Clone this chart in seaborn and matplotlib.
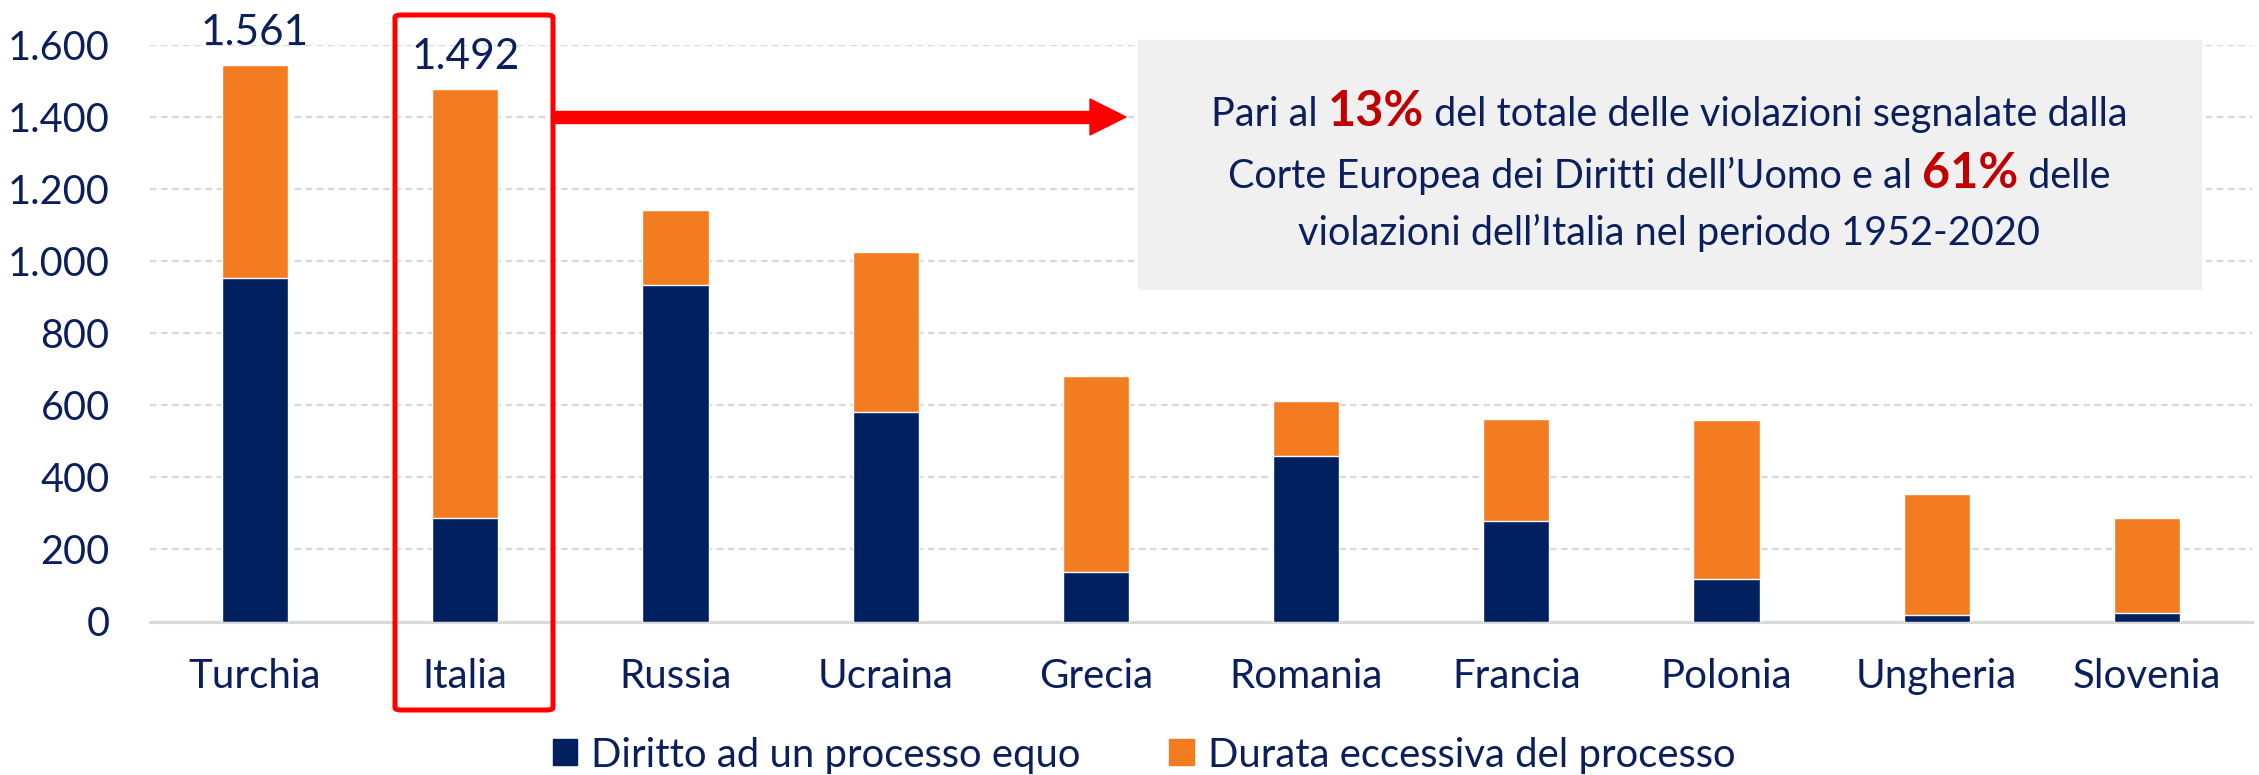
import matplotlib
matplotlib.use('Agg')
import matplotlib.pyplot as plt
import seaborn as sns
import pandas as pd
from matplotlib.patches import FancyBboxPatch, Rectangle, Patch

# Dati: violazioni per paese
paesi = ["Turchia", "Italia", "Russia", "Ucraina", "Grecia",
         "Romania", "Francia", "Polonia", "Ungheria", "Slovenia"]
processo_equo = [952, 287, 933, 580, 138, 459, 278, 117, 19, 23]
durata_eccessiva = [592, 1190, 208, 446, 544, 152, 285, 443, 335, 264]
totali_etichetta = ["1.561", "1.492"]  # etichette sopra le prime due barre
tick_y = [0, 200, 400, 600, 800, 1000, 1200, 1400, 1600]
tick_y_lab = ["0", "200", "400", "600", "800", "1.000", "1.200", "1.400", "1.600"]

NAVY = "#002060"
ORANGE = "#F47C20"
TXT = "#0B1F5C"
FONT = ["Lato", "DejaVu Sans"]

df = pd.DataFrame({"Paese": paesi, "Equo": processo_equo, "Durata": durata_eccessiva})
df["Totale"] = df["Equo"] + df["Durata"]

sns.set_style("white")
plt.rcParams['font.family'] = FONT

W, H = 2259, 775
fig = plt.figure(figsize=(W / 100, H / 100), dpi=100)
ax = fig.add_axes([150 / W, 1 - 621.5 / H, (2252 - 150) / W, (621.5 - 44.7) / H])

# barre impilate: prima il totale (arancio), poi la parte blu sopra
sns.barplot(data=df, x="Paese", y="Totale", color=ORANGE, width=0.315,
            saturation=1, ax=ax, zorder=3)
sns.barplot(data=df, x="Paese", y="Equo", color=NAVY, width=0.315,
            saturation=1, ax=ax, zorder=4)

ax.set_xlim(-0.5, 9.5)
ax.set_ylim(0, 1600)
ax.set_xlabel("")
ax.set_ylabel("")
ax.set_yticks(tick_y)
ax.set_yticklabels(tick_y_lab)
ax.tick_params(axis='y', length=0, pad=29, labelsize=28.5, labelcolor=TXT)
ax.tick_params(axis='x', length=0, pad=26, labelsize=29, labelcolor=TXT)
for s in ["top", "right", "left"]:
    ax.spines[s].set_visible(False)
ax.spines["bottom"].set_color("#D9D9D9")
ax.spines["bottom"].set_linewidth(2.2)
ax.yaxis.grid(True, color="#D9D9D9", linestyle=(0, (3, 2)), linewidth=1.6, zorder=0)
ax.set_axisbelow(True)

# etichette dei totali
for i, lab in enumerate(totali_etichetta):
    ax.annotate(lab, xy=(i, df["Totale"][i]), xytext=(0, 23), textcoords="offset points",
                ha="center", va="center", fontsize=30.5, color=TXT, annotation_clip=False)

# riquadro rosso attorno all'Italia e freccia
fig.patches.append(FancyBboxPatch((395 / W, 1 - 710 / H), (553 - 395) / W, (710 - 15) / H,
                                  boxstyle="round,pad=0,rounding_size=0.003",
                                  transform=fig.transFigure, fill=False,
                                  edgecolor="#FF0000", linewidth=3.6, zorder=10))
fig.patches.append(Rectangle((555 / W, 1 - 123 / H), (1092 - 555) / W, 12 / H,
                             transform=fig.transFigure, color="#FF0000", zorder=10))
fig.patches.append(plt.Polygon([[1090 / W, 1 - 99 / H], [1126 / W, 1 - 117 / H],
                                [1090 / W, 1 - 135 / H]], closed=True,
                               transform=fig.transFigure, color="#FF0000", zorder=10))

# box grigio con testo
fig.patches.append(Rectangle((1138 / W, 1 - 289 / H), (2201 - 1138) / W, (289 - 40) / H,
                             transform=fig.transFigure, color="#F0F0F0", zorder=5))

righe = [
    [("Pari al ", False), ("13%", True), (" del totale delle violazioni segnalate dalla", False)],
    [("Corte Europea dei Diritti dell\u2019Uomo e al ", False), ("61%", True), (" delle", False)],
    [("violazioni dell\u2019Italia nel periodo 1952-2020", False)],
]
righe_y = [111, 173, 230]
cx = 1669
renderer = fig.canvas.get_renderer()
for parti, yy in zip(righe, righe_y):
    pezzi = []
    for testo, evid in parti:
        if evid:
            t = fig.text(0, 1 - yy / H, testo, fontsize=35, fontweight="bold",
                         color="#C00000", va="baseline", zorder=11)
        else:
            t = fig.text(0, 1 - yy / H, testo, fontsize=28.5, color=TXT,
                         va="baseline", zorder=11)
        pezzi.append(t)
    larghezze = [p.get_window_extent(renderer).width for p in pezzi]
    x0 = cx - sum(larghezze) / 2
    for p, w in zip(pezzi, larghezze):
        p.set_position((x0 / W, 1 - (yy + 15) / H))
        x0 += w

# legenda
handles = [Patch(color=NAVY, label="Diritto ad un processo equo"),
           Patch(color=ORANGE, label="Durata eccessiva del processo")]
fig.legend(handles=handles, loc="center", bbox_to_anchor=(1144 / W, 1 - 755 / H),
           ncol=2, frameon=False, fontsize=28.8, handlelength=0.62, handleheight=0.62,
           handletextpad=0.35, columnspacing=2.2, labelcolor=TXT)

fig.savefig("out.png", dpi=100)
